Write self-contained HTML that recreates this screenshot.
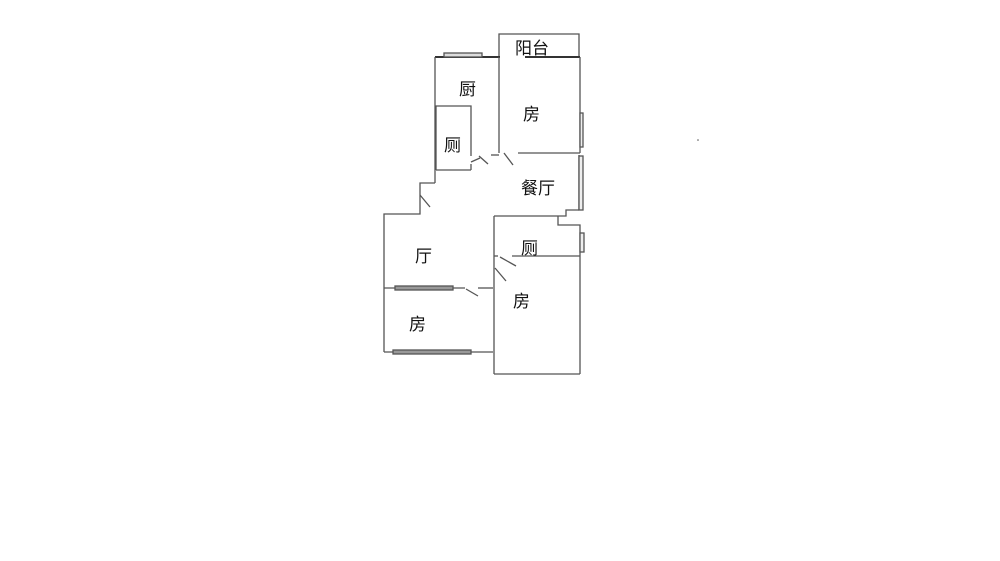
<!DOCTYPE html>
<html><head><meta charset="utf-8"><style>
body{margin:0;background:#fff;width:1000px;height:556px;overflow:hidden}
text{font-family:"Liberation Sans","Noto Sans CJK SC",sans-serif;font-size:17px;fill:#111}
</style></head><body>
<svg width="1000" height="556" viewBox="0 0 1000 556" xmlns="http://www.w3.org/2000/svg">
<g stroke="#555" stroke-width="1.3" fill="none">
<polyline points="499,57 499,34 579,34 579,57"/>
<line x1="435" y1="57" x2="500" y2="57" stroke="#333" stroke-width="2"/>
<line x1="525" y1="57" x2="580" y2="57" stroke="#333" stroke-width="2"/>
<rect x="444" y="53" width="38" height="4" fill="#ddd"/>
<line x1="435" y1="57" x2="435" y2="183"/>
<line x1="499" y1="57" x2="499" y2="153"/>
<polyline points="436,170 436,106 471,106 471,156"/>
<line x1="436" y1="170" x2="471" y2="170"/>
<line x1="471" y1="164" x2="471" y2="170"/>
<line x1="471" y1="162" x2="480" y2="158"/>
<line x1="479" y1="156" x2="488" y2="164"/>
<line x1="491" y1="155" x2="499" y2="155"/>
<line x1="504" y1="153" x2="513" y2="165"/>
<line x1="518" y1="153" x2="580" y2="153"/>
<line x1="580" y1="57" x2="580" y2="153"/>
<rect x="580" y="113" width="3" height="34" fill="#eee"/>
<line x1="579" y1="155" x2="579" y2="210"/>
<rect x="579" y="156" width="4" height="54" fill="#eee"/>
<polyline points="579,210 566,210 566,216 558,216"/>
<line x1="494" y1="216" x2="558" y2="216"/>
<polyline points="558,216 558,225 580,225 580,374"/>
<rect x="580" y="233" width="4" height="19" fill="#eee"/>
<polyline points="435,183 420,183 420,214 384,214 384,352"/>
<line x1="420" y1="195" x2="430" y2="207"/>
<line x1="384" y1="288" x2="465" y2="288"/>
<line x1="478" y1="288" x2="493" y2="288"/>
<rect x="395" y="286" width="58" height="4" fill="#999" stroke="#555"/>
<line x1="466" y1="289" x2="478" y2="296"/>
<line x1="384" y1="352" x2="493" y2="352"/>
<rect x="393" y="350" width="78" height="4" fill="#999" stroke="#555"/>
<line x1="494" y1="216" x2="494" y2="374"/>
<line x1="494" y1="374" x2="580" y2="374"/>
<line x1="494" y1="256" x2="498" y2="256"/>
<line x1="512" y1="256" x2="580" y2="256"/>
<line x1="500" y1="257" x2="516" y2="266"/>
<line x1="495" y1="268" x2="506" y2="281"/>
</g>
<circle cx="698" cy="140" r="0.8" fill="#555"/>
<text x="515" y="54">阳台</text>
<text x="459" y="95">厨</text>
<text x="523" y="120">房</text>
<text x="444" y="151">厕</text>
<text x="521" y="194">餐厅</text>
<text x="415" y="262">厅</text>
<text x="521" y="254">厕</text>
<text x="513" y="307">房</text>
<text x="409" y="330">房</text>
</svg>
</body></html>
